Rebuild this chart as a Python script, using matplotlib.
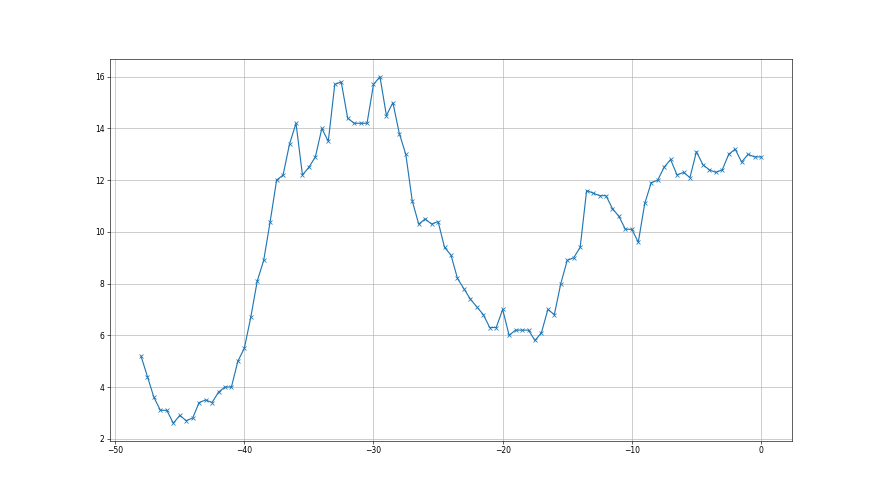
import numpy as np
import matplotlib
matplotlib.use('Agg')
import matplotlib.pyplot as plt

x = np.arange(-48, 0.01, 0.5)
y = [5.2, 4.4, 3.6, 3.1, 3.1, 2.6, 2.9, 2.7, 2.8, 3.4,
     3.5, 3.4, 3.8, 4.0, 4.0, 5.0, 5.5, 6.7, 8.1, 8.9,
     10.4, 12.0, 12.2, 13.4, 14.2, 12.2, 12.5, 12.9, 14.0, 13.5,
     15.7, 15.8, 14.4, 14.2, 14.2, 14.2, 15.7, 16.0, 14.5, 15.0,
     13.8, 13.0, 11.2, 10.3, 10.5, 10.3, 10.4, 9.4, 9.1, 8.2,
     7.8, 7.4, 7.1, 6.8, 6.3, 6.3, 7.0, 6.0, 6.2, 6.2,
     6.2, 5.8, 6.1, 7.0, 6.8, 8.0, 8.9, 9.0, 9.4, 11.6,
     11.5, 11.4, 11.4, 10.9, 10.6, 10.1, 10.1, 9.6, 11.1, 11.9,
     12.0, 12.5, 12.8, 12.2, 12.3, 12.1, 13.1, 12.6, 12.4, 12.3,
     12.4, 13.0, 13.2, 12.7, 13.0, 12.9, 12.9]

fig = plt.figure(figsize=(16, 9), dpi=55)
plt.plot(x, y, marker='x')
plt.grid(True)
plt.savefig('out.png')
